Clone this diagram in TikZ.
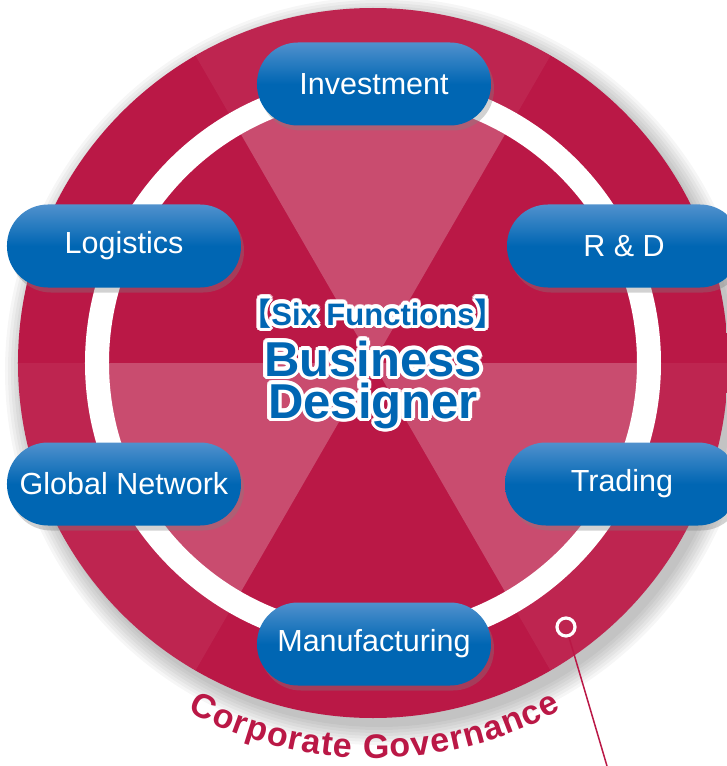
\documentclass[tikz,border=0pt]{standalone}
\usepackage{fontspec}
\setmainfont{Liberation Sans}
\newfontfamily\cjk{Noto Sans CJK JP}
\usepackage{contour}
\usetikzlibrary{decorations.text,shadows}

\definecolor{crim}{RGB}{186,24,70}
\definecolor{crimdark}{RGB}{125,14,42}
\definecolor{pillblue}{RGB}{0,102,179}
\definecolor{pillhi}{RGB}{80,145,205}

\pgfdeclareradialshading{rim}{\pgfpoint{0bp}{0bp}}{color(0bp)=(crim); color(42bp)=(crim); color(45bp)=(crim!94!white); color(50bp)=(crimdark); color(72bp)=(crimdark)}

\tikzset{
  pill/.style={rounded corners=41pt, minimum width=234pt, minimum height=83pt,
    top color=pillhi, bottom color=pillblue, middle color=pillblue,
    text=white, font=\fontsize{30.5}{36}\selectfont,
    drop shadow={shadow xshift=3pt, shadow yshift=-5pt, opacity=.35}},
  wedge/.style={fill=white, fill opacity=#1},
  title/.style={anchor=base, text=pillblue, font=\bfseries\fontsize{49}{49}\selectfont}
}
\contourlength{3.5pt}

\begin{document}
\begin{tikzpicture}[x=1pt,y=1pt]
\useasboundingbox (-373,-403) rectangle (354,363);
\fill[white] (-373,-403) rectangle (354,363);
% soft shadow under the disc
\foreach \r in {356,359,...,374}
  \fill[black, opacity=.035] (6,-8) circle (\r);
% disc, light wedges, white ring
\shade[shading=rim] (0,0) circle (355);
\foreach \a in {60,180,300} {
  \fill[wedge=.06] (0,0) -- (\a:355) arc[start angle=\a, end angle=\a+60, radius=355] -- cycle;
  \fill[wedge=.18] (0,0) -- (\a:276) arc[start angle=\a, end angle=\a+60, radius=276] -- cycle;
}
\draw[white, line width=24] (0,0) circle (276);

% pointer
\node (dot) [circle, draw=white, line width=3.2, minimum size=18pt, inner sep=0] at (193,-264) {};
\coordinate (tail) at (234,-403);
\draw[crim, line width=1.5] (dot) -- (tail);

% the six functions
\node[pill] (inv) at (1,279) {Investment};
\node[pill] (log) at (-249,117) {Logistics};
\node[pill] (rd) at (251,117) {R \& D};
\node[pill] (glob) at (-249,-121) {Global Network};
\node[pill] (trad) at (249,-121) {Trading};
\node[pill] (manu) at (1,-281) {Manufacturing};

% centre title
\node[title, font=\bfseries\fontsize{31}{31}\selectfont] (six) at (0,38)
  {\contour{white}{{\cjk 【}Six Functions{\cjk 】}}};
\node[title] (bus) at (0,-13) {\contour{white}{Business}};
\node[title] (des) at (0,-55) {\contour{white}{Designer}};

% text round the bottom
\path[decorate, decoration={text along path, text color=crim, text align={fit to path},
  text={|\bfseries\fontsize{34}{34}\selectfont|Corporate Governance}}]
  (242:395) arc[start angle=242, end angle=298.5, radius=395];
\end{tikzpicture}
\end{document}
